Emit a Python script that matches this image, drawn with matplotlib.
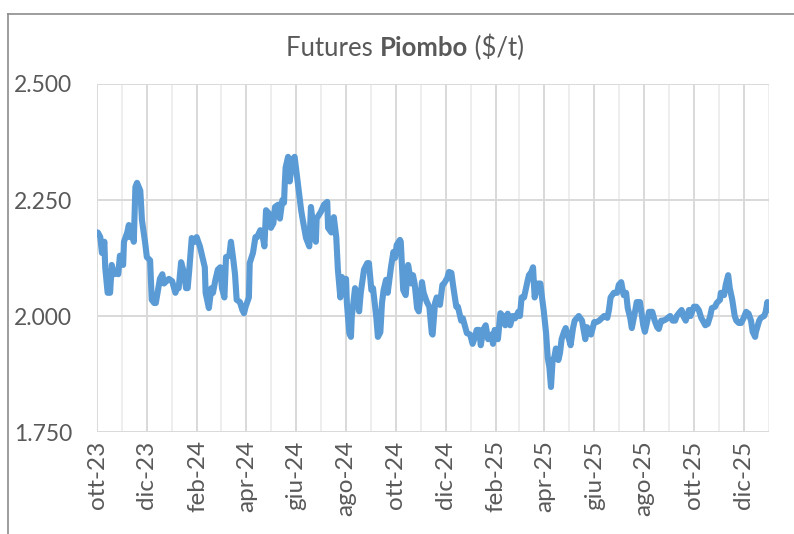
import pandas as pd
import matplotlib
matplotlib.use("Agg")
import matplotlib.pyplot as plt
from matplotlib.lines import Line2D

# Giorni trascorsi dal 1 ottobre 2023 e prezzo futures piombo (migliaia di $/t)
giorni = [0, 1, 4, 6, 9, 10, 13, 16, 18, 21, 23, 26, 28, 32, 33, 37, 39, 40, 43, 45,
          47, 49, 53, 55, 59, 61, 65, 67, 70, 72, 75, 77, 80, 82, 85, 88, 92, 96, 98, 100,
          103, 107, 109, 111, 113, 116, 120, 122, 126, 129, 132, 133, 137, 140, 142, 145, 148, 151, 153, 156,
          158, 162, 164, 167, 169, 171, 175, 178, 180, 182, 186, 187, 191, 194, 196, 200, 202, 205, 207, 211,
          213, 216, 218, 222, 224, 227, 229, 230, 231, 234, 236, 239, 242, 245, 247, 250, 252, 256, 260, 262,
          265, 268, 269, 274, 278, 282, 283, 287, 290, 293, 295, 298, 300, 302, 305, 306, 309, 311, 312, 316,
          318, 321, 323, 327, 331, 333, 336, 338, 342, 344, 347, 349, 351, 354, 356, 360, 363, 365, 367, 371,
          372, 375, 378, 381, 385, 387, 389, 392, 394, 398, 400, 404, 407, 410, 411, 414, 416, 420, 423, 425,
          429, 431, 434, 436, 440, 442, 446, 448, 451, 453, 457, 460, 463, 465, 468, 470, 473, 476, 479, 483,
          485, 487, 491, 494, 497, 500, 503, 506, 509, 512, 516, 518, 520, 523, 527, 529, 532, 534, 536, 540,
          543, 545, 547, 550, 552, 554, 556, 558, 560, 562, 565, 567, 569, 572, 574, 578, 580, 583, 585, 590,
          594, 598, 600, 603, 605, 609, 612, 615, 618, 621, 625, 627, 629, 633, 637, 639, 642, 645, 648, 650,
          653, 655, 659, 661, 665, 669, 671, 674, 676, 680, 683, 686, 688, 691, 694, 697, 699, 702, 705, 708,
          710, 714, 716, 718, 721, 725, 727, 731, 734, 737, 740, 742, 745, 748, 751, 753, 757, 759, 763, 764,
          768, 770, 773, 775, 778, 781, 783, 786, 789, 792, 795, 798, 801, 803, 806, 807, 811, 813, 817, 819,
          821, 822]
prezzi = [2.180, 2.180, 2.170, 2.136, 2.160, 2.105, 2.050, 2.050, 2.110, 2.090, 2.095, 2.090, 2.130, 2.110, 2.160, 2.180, 2.196, 2.170, 2.185, 2.160,
          2.278, 2.287, 2.270, 2.207, 2.157, 2.127, 2.120, 2.035, 2.028, 2.028, 2.060, 2.080, 2.090, 2.070, 2.075, 2.080, 2.075, 2.050, 2.060, 2.060,
          2.116, 2.090, 2.060, 2.060, 2.100, 2.168, 2.160, 2.170, 2.150, 2.127, 2.105, 2.050, 2.017, 2.060, 2.050, 2.078, 2.100, 2.105, 2.060, 2.040,
          2.127, 2.130, 2.160, 2.120, 2.090, 2.035, 2.030, 2.013, 2.006, 2.020, 2.040, 2.114, 2.136, 2.170, 2.170, 2.185, 2.180, 2.150, 2.228, 2.220,
          2.190, 2.200, 2.235, 2.240, 2.210, 2.250, 2.244, 2.287, 2.320, 2.343, 2.290, 2.336, 2.343, 2.300, 2.270, 2.228, 2.207, 2.168, 2.150, 2.235,
          2.190, 2.160, 2.210, 2.224, 2.240, 2.246, 2.190, 2.180, 2.213, 2.170, 2.100, 2.040, 2.084, 2.070, 2.080, 2.028, 1.963, 1.955, 1.998, 2.060,
          2.050, 2.010, 2.050, 2.100, 2.114, 2.114, 2.056, 2.060, 1.998, 1.955, 1.965, 2.028, 2.056, 2.078, 2.050, 2.105, 2.138, 2.125, 2.153, 2.164,
          2.160, 2.056, 2.045, 2.110, 2.070, 2.088, 2.070, 2.017, 2.010, 2.073, 2.050, 2.030, 2.020, 1.963, 1.960, 2.028, 2.040, 2.024, 2.067, 2.070,
          2.082, 2.095, 2.093, 2.067, 2.020, 2.020, 1.990, 1.995, 1.976, 1.963, 1.960, 1.940, 1.955, 1.970, 1.970, 1.937, 1.970, 1.980, 1.950, 1.960,
          1.940, 1.970, 1.950, 2.006, 2.000, 1.980, 2.005, 1.980, 2.000, 1.995, 2.009, 2.000, 2.040, 2.040, 2.073, 2.088, 2.095, 2.105, 2.040, 2.070,
          2.070, 2.040, 2.013, 1.963, 1.910, 1.890, 1.847, 1.905, 1.910, 1.930, 1.905, 1.920, 1.950, 1.966, 1.974, 1.950, 1.937, 1.974, 1.990, 2.000,
          1.990, 1.950, 1.976, 1.970, 1.960, 1.987, 1.987, 1.990, 1.995, 2.000, 1.996, 2.013, 2.040, 2.050, 2.050, 2.067, 2.073, 2.045, 2.050, 2.017,
          1.996, 1.974, 2.010, 2.030, 2.030, 1.980, 1.966, 1.990, 2.009, 2.009, 1.990, 1.976, 1.972, 1.990, 1.990, 1.993, 1.996, 2.000, 1.990, 1.990,
          2.000, 2.009, 2.013, 2.000, 1.990, 2.013, 2.000, 2.020, 2.020, 2.013, 1.996, 1.990, 1.980, 1.983, 2.000, 2.017, 2.020, 2.028, 2.035, 2.050,
          2.045, 2.067, 2.088, 2.060, 2.035, 2.000, 1.990, 1.985, 1.985, 1.996, 2.009, 2.005, 1.990, 1.966, 1.955, 1.966, 1.990, 1.996, 2.000, 2.009,
          2.030, 2.013]

etichette_x = ["ott-23", "dic-23", "feb-24", "apr-24", "giu-24", "ago-24", "ott-24",
               "dic-24", "feb-25", "apr-25", "giu-25", "ago-25", "ott-25", "dic-25"]
valori_y = [1.75, 2.0, 2.25, 2.5]
etichette_y = ["1.750", "2.000", "2.250", "2.500"]

inizio = pd.Timestamp("2023-10-01")
fine = pd.Timestamp("2026-01-01")
date = inizio + pd.to_timedelta(giorni, unit="D")

FONT = "Lato"
GRIGIO = "#595959"

fig = plt.figure(figsize=(7.94, 5.34), dpi=100)
ax = fig.add_axes([0.1222, 0.191, 0.8463, 0.6517])

# griglia: principale sui mesi etichettati, secondaria sugli altri
ax.set_xticks(pd.date_range(inizio, periods=len(etichette_x), freq="2MS"))
ax.set_xticks(pd.date_range(inizio, fine, freq="MS"), minor=True)
ax.grid(which="major", color="#D9D9D9", lw=1.4)
ax.grid(which="minor", axis="x", color="#EEEEEE", lw=1.4)
ax.set_axisbelow(True)

ax.plot(date, prezzi, color="#5B9BD5", lw=4.4, solid_joinstyle="round", solid_capstyle="round")

ax.set_xlim(inizio, fine)
ax.set_ylim(1.75, 2.5)
ax.set_yticks(valori_y)
ax.set_yticklabels(etichette_y, fontfamily=FONT, fontsize=16.5, color=GRIGIO)
ax.set_xticklabels(etichette_x, rotation=90, fontfamily=FONT, fontsize=17.5, color=GRIGIO)
ax.tick_params(axis="both", which="both", length=0)
ax.tick_params(axis="y", pad=18)
ax.tick_params(axis="x", pad=6)
for s in ax.spines.values():
    s.set_visible(False)

# titolo con una parola in grassetto
pezzi = [("Futures ", "normal"), ("Piombo", "bold"), (" ($/t)", "normal")]
renderer = fig.canvas.get_renderer()
testi = []
for testo, peso in pezzi:
    t = fig.text(0, 0.91, testo.replace("$", r"\$"), fontfamily=FONT, fontsize=18.5,
                 fontweight=peso, color=GRIGIO, va="center", ha="left")
    testi.append(t)
larghezze = [t.get_window_extent(renderer).width / fig.bbox.width for t in testi]
x = 0.51 - sum(larghezze) / 2
for t, w in zip(testi, larghezze):
    t.set_x(x)
    x += w

# bordo dell'area del grafico (tagliato a destra e in basso)
x0, y0 = 8 / 794, 1 - 14 / 534
fig.add_artist(Line2D([x0, x0], [0, y0], color="#8C8C8C", lw=1.2))
fig.add_artist(Line2D([x0, 1], [y0, y0], color="#8C8C8C", lw=1.2))

fig.savefig("out.png", dpi=100)
